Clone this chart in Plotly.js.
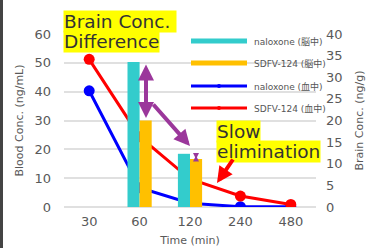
<!DOCTYPE html>
<html><head><meta charset="utf-8">
<script src="https://cdn.plot.ly/plotly-3.0.1.min.js"></script>
<style>html,body{margin:0;padding:0;background:#fff}#chart{width:367px;height:248px}</style>
</head><body><div id="chart"></div>
<script>
const times = ['30','60','120','240','480'];
const naloxoneBrain = [null, 33.5, 12.3, null, null];
const sdfvBrain = [null, 20.0, 11.1, null, null];
const naloxoneBlood = [40.3, 6.7, 1.3, 0.1, 0.1];
const sdfvBlood = [51.2, 24.4, 9.7, 3.8, 0.9];
const legendNames = ['naloxone (脳中)', 'SDFV-124 (脳中)', 'naloxone (血中)', 'SDFV-124 (血中)'];

const FONT = '"DejaVu Sans", "Noto Sans CJK JP", sans-serif';
const L = 64, R = 316, T = 34, B = 207;
const px = x => (x - L) / (R - L);
const py = y => (B - y) / (B - T);

const traces = [
  {type:'bar', x:times, y:naloxoneBrain, yaxis:'y2', name:legendNames[0], marker:{color:'#33cccc'}, showlegend:false},
  {type:'bar', x:times, y:sdfvBrain, yaxis:'y2', name:legendNames[1], marker:{color:'#ffc000'}, showlegend:false},
  {type:'scatter', mode:'lines+markers', x:times, y:naloxoneBlood, name:legendNames[2], line:{color:'#0000ff', width:3}, marker:{size:11, color:'#0000ff'}, showlegend:false},
  {type:'scatter', mode:'lines+markers', x:times, y:sdfvBlood, name:legendNames[3], line:{color:'#ff0000', width:3}, marker:{size:11, color:'#ff0000'}, showlegend:false}
];

const legColors = ['#33cccc', '#ffc000', '#0000ff', '#ff0000'];
const legY = [41, 63, 86, 108];
const legW = [5, 5, 3, 3];
const shapes = [];
const annotations = [];
legendNames.forEach((n, i) => {
  shapes.push({type:'line', xref:'paper', yref:'paper', x0:px(191), x1:px(247), y0:py(legY[i]), y1:py(legY[i]), line:{color:legColors[i], width:legW[i]}});
  if (i >= 2) shapes.push({type:'circle', xref:'paper', yref:'paper', x0:px(217), x1:px(221), y0:py(legY[i]+2), y1:py(legY[i]-2), fillcolor:legColors[i], line:{width:0}});
  annotations.push({xref:'paper', yref:'paper', x:px(252), y:py(legY[i]), xanchor:'left', yanchor:'middle', text:n, showarrow:false, font:{family:FONT, size:9, color:'#555'}});
});
shapes.push({type:'rect', xref:'paper', yref:'paper', x0:px(0), x1:px(3), y0:py(248), y1:py(0), fillcolor:'#444', line:{width:0}});

const labels = [
  {t:'Brain Conc. ', x:63, y:10},
  {t:'Difference', x:63, y:30},
  {t:'Slow', x:216, y:120},
  {t:'elimination', x:216, y:140}
];
labels.forEach(l => annotations.push({xref:'paper', yref:'paper', x:px(l.x), y:py(l.y), xanchor:'left', yanchor:'top', text:l.t, showarrow:false, bgcolor:'#ffff00', borderpad:0, font:{family:FONT, size:18.5, color:'#333'}}));

const PURPLE = '#9b379b';
const arrows = [
  {hx:146, hy:118, tx:146, ty:63, c:PURPLE, w:4, s:0.8, side:'end+start'},
  {hx:190, hy:146, tx:152, ty:103, c:PURPLE, w:4, s:0.8, side:'end'},
  {hx:196, hy:159, tx:196, ty:154, c:PURPLE, w:2, s:0.6, side:'end+start'},
  {hx:217, hy:183, tx:234, ty:158, c:'#ff0000', w:4, s:0.8, side:'end'}
];
arrows.forEach(a => annotations.push({xref:'paper', yref:'paper', x:px(a.hx), y:py(a.hy), ax:a.tx-a.hx, ay:a.ty-a.hy, text:'', showarrow:true, arrowhead:2, arrowside:a.side, arrowsize:a.s, arrowwidth:a.w, arrowcolor:a.c, standoff:0, startstandoff:0}));

const layout = {
  width:367, height:248,
  margin:{l:L, r:367-R, t:T, b:248-B},
  paper_bgcolor:'#fff', plot_bgcolor:'#fff',
  font:{family:FONT, color:'#595959'},
  barmode:'group', bargap:0.52, bargroupgap:0,
  showlegend:false,
  xaxis:{type:'category', tickfont:{size:13, color:'#595959'}, ticklabelstandoff:5, title:{text:'Time (min)', font:{size:11, color:'#595959'}, standoff:8}, showgrid:false, zeroline:false, ticks:''},
  yaxis:{range:[0,60], dtick:10, tickfont:{size:13, color:'#595959'}, ticklabelstandoff:12, title:{text:'Blood Conc. (ng/mL)', font:{size:11, color:'#595959'}, standoff:8}, gridcolor:'#e0e0e0', gridwidth:2, zeroline:true, zerolinecolor:'#e0e0e0', zerolinewidth:2, ticks:''},
  yaxis2:{range:[0,40], dtick:5, overlaying:'y', side:'right', showgrid:false, zeroline:false, tickfont:{size:13, color:'#595959'}, ticklabelstandoff:9, title:{text:'Brain Conc. (ng/g)', font:{size:11, color:'#595959'}, standoff:13}, ticks:''},
  shapes:shapes,
  annotations:annotations
};
Plotly.newPlot('chart', traces, layout, {displayModeBar:false, staticPlot:true});
</script></body></html>
